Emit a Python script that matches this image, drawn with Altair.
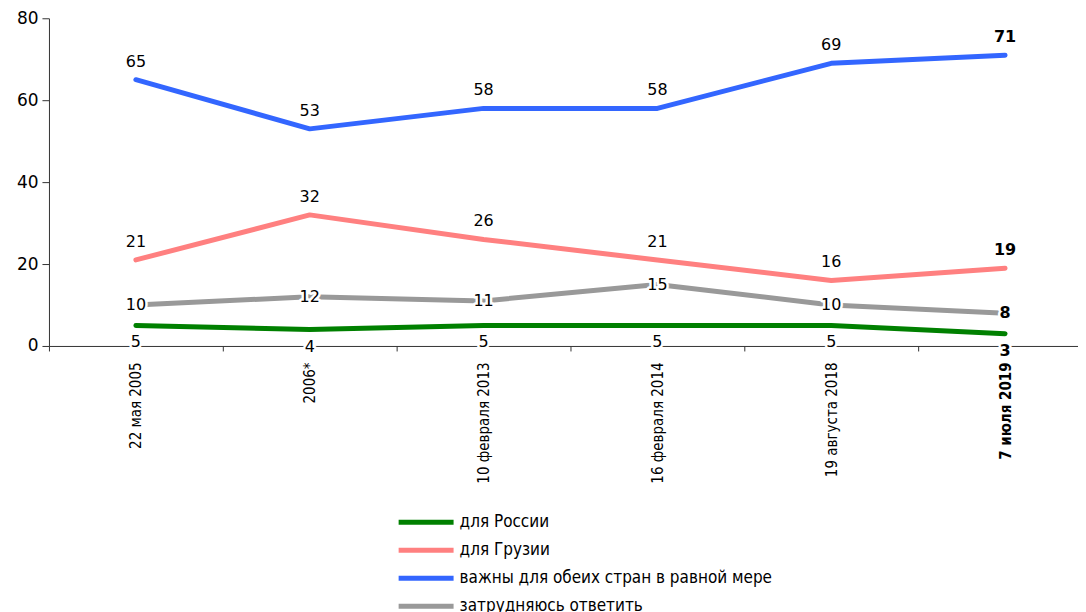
import altair as alt
import pandas as pd

dates = ["22 мая 2005", "2006*", "10 февраля 2013", "16 февраля 2014", "19 августа 2018", "7 июля 2019"]
series_names = ["для России", "для Грузии", "важны для обеих стран в равной мере", "затрудняюсь ответить"]
russia = [5, 4, 5, 5, 5, 3]
georgia = [21, 32, 26, 21, 16, 19]
both = [65, 53, 58, 58, 69, 71]
hard = [10, 12, 11, 15, 10, 8]
colors = ["#008000", "#FF8080", "#3366FF", "#999999"]
last_date = dates[-1]

rows = []
for name, vals in zip(series_names, [russia, georgia, both, hard]):
    for d, v in zip(dates, vals):
        rows.append({"date": d, "series": name, "value": v})
df = pd.DataFrame(rows)

NUM_FONT = "DejaVu Sans"
NARROW = "DejaVu Sans Condensed, Liberation Sans Narrow, Arial Narrow, sans-serif"

x = alt.X(
    "date:N", sort=dates, bandPosition=0.5,
    scale=alt.Scale(type="band", paddingInner=0, paddingOuter=0, range=[0, 1044]),
    axis=alt.Axis(
        title=None, labelAngle=-90, tickBand="extent", tickSize=5,
        labelFont=NARROW, labelFontSize=15, labelColor="black", labelPadding=11,
        labelFontWeight=alt.expr(f"datum.value == '{last_date}' ? 'bold' : 'normal'"),
        domainColor="#333", tickColor="#333",
    ),
)
y = alt.Y(
    "value:Q",
    scale=alt.Scale(domain=[0, 80], nice=False),
    axis=alt.Axis(
        title=None, values=[0, 20, 40, 60, 80], grid=False, tickSize=7,
        labelFont=NUM_FONT, labelFontSize=17, labelColor="black", labelPadding=4,
        domainColor="#333", tickColor="#333",
    ),
)

lines = alt.Chart(df).mark_line(strokeWidth=5, strokeCap="round", strokeJoin="round").encode(
    x=x, y=y,
    color=alt.Color(
        "series:N",
        scale=alt.Scale(domain=series_names, range=colors),
        legend=alt.Legend(
            title=None, orient="none", legendX=369, legendY=496,
            symbolType="M-5.5,0H5.5", symbolSize=100, symbolStrokeWidth=5,
            labelFont=NARROW, labelFontSize=17, labelColor="black",
            labelOffset=25, rowPadding=7, labelLimit=600,
        ),
    ),
    order=alt.Order("series:N"),
)


def label_layers(series_list, dy, halo):
    out = []
    for bold in (False, True):
        cond = f"datum.date == '{last_date}'" if bold else f"datum.date != '{last_date}'"
        base = alt.Chart(df).transform_filter(
            alt.FieldOneOfPredicate(field="series", oneOf=series_list)
        ).transform_filter(cond)
        weight = "bold" if bold else "normal"
        if halo:
            out.append(base.mark_text(
                dy=dy, font=NUM_FONT, fontSize=16, fontWeight=weight,
                fill="white", stroke="white", strokeWidth=5, strokeJoin="round",
            ).encode(x=x, y=y, text="value:Q"))
        out.append(base.mark_text(
            dy=dy, font=NUM_FONT, fontSize=16, fontWeight=weight, color="black",
        ).encode(x=x, y=y, text="value:Q"))
    return out


layers = [lines]
layers += label_layers([series_names[1], series_names[2]], -18, False)
layers += label_layers([series_names[3]], 0, True)
layers += label_layers([series_names[0]], 17, True)

chart = alt.layer(*layers).properties(
    width=1030, height=328,
    autosize=alt.AutoSizeParams(type="none"),
    padding={"left": 41, "top": 10, "right": 0, "bottom": 270},
).configure_view(stroke=None)

chart.save("out.html", embed_options={"renderer": "svg", "actions": False})
